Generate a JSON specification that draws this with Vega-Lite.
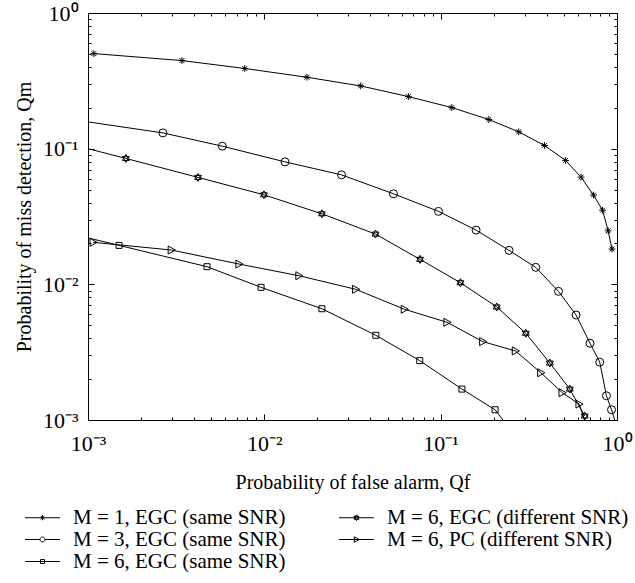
{
  "$schema": "https://vega.github.io/schema/vega-lite/v6.json",
  "autosize": {"type": "none"},
  "width": 529,
  "height": 407,
  "padding": {"left": 88, "top": 13, "right": 18, "bottom": 163},
  "background": "white",
  "config": {
    "view": {"stroke": "black", "strokeWidth": 1},
    "font": "Liberation Serif",
    "axis": {"grid": false, "domainColor": "black", "tickColor": "black", "labelColor": "black", "titleColor": "black", "labelFont": "Liberation Serif", "titleFont": "Liberation Serif", "titleFontWeight": "normal", "labelFontSize": 22, "titleFontSize": 20}
  },
  "data": {"values": [
    {"series": "M = 1, EGC (same SNR)", "kind": "marker", "x": 0.00108, "y": 0.502},
    {"series": "M = 1, EGC (same SNR)", "kind": "marker", "x": 0.00341, "y": 0.446},
    {"series": "M = 1, EGC (same SNR)", "kind": "marker", "x": 0.00774, "y": 0.390},
    {"series": "M = 1, EGC (same SNR)", "kind": "marker", "x": 0.01746, "y": 0.336},
    {"series": "M = 1, EGC (same SNR)", "kind": "marker", "x": 0.0352, "y": 0.290},
    {"series": "M = 1, EGC (same SNR)", "kind": "marker", "x": 0.0656, "y": 0.242},
    {"series": "M = 1, EGC (same SNR)", "kind": "marker", "x": 0.1156, "y": 0.201},
    {"series": "M = 1, EGC (same SNR)", "kind": "marker", "x": 0.1875, "y": 0.164},
    {"series": "M = 1, EGC (same SNR)", "kind": "marker", "x": 0.2773, "y": 0.133},
    {"series": "M = 1, EGC (same SNR)", "kind": "marker", "x": 0.388, "y": 0.1056},
    {"series": "M = 1, EGC (same SNR)", "kind": "marker", "x": 0.511, "y": 0.0819},
    {"series": "M = 1, EGC (same SNR)", "kind": "marker", "x": 0.625, "y": 0.0617},
    {"series": "M = 1, EGC (same SNR)", "kind": "marker", "x": 0.736, "y": 0.0455},
    {"series": "M = 1, EGC (same SNR)", "kind": "marker", "x": 0.828, "y": 0.0352},
    {"series": "M = 1, EGC (same SNR)", "kind": "marker", "x": 0.891, "y": 0.0248},
    {"series": "M = 1, EGC (same SNR)", "kind": "marker", "x": 0.937, "y": 0.0182},

    {"series": "M = 3, EGC (same SNR)", "kind": "edge", "x": 0.001, "y": 0.1575},
    {"series": "M = 3, EGC (same SNR)", "kind": "marker", "x": 0.00266, "y": 0.1307},
    {"series": "M = 3, EGC (same SNR)", "kind": "marker", "x": 0.00578, "y": 0.1043},
    {"series": "M = 3, EGC (same SNR)", "kind": "marker", "x": 0.0131, "y": 0.0799},
    {"series": "M = 3, EGC (same SNR)", "kind": "marker", "x": 0.0274, "y": 0.0641},
    {"series": "M = 3, EGC (same SNR)", "kind": "marker", "x": 0.054, "y": 0.0465},
    {"series": "M = 3, EGC (same SNR)", "kind": "marker", "x": 0.0972, "y": 0.0345},
    {"series": "M = 3, EGC (same SNR)", "kind": "marker", "x": 0.1588, "y": 0.0251},
    {"series": "M = 3, EGC (same SNR)", "kind": "marker", "x": 0.2443, "y": 0.0178},
    {"series": "M = 3, EGC (same SNR)", "kind": "marker", "x": 0.346, "y": 0.01334},
    {"series": "M = 3, EGC (same SNR)", "kind": "marker", "x": 0.4656, "y": 0.00888},
    {"series": "M = 3, EGC (same SNR)", "kind": "marker", "x": 0.586, "y": 0.00594},
    {"series": "M = 3, EGC (same SNR)", "kind": "marker", "x": 0.703, "y": 0.00368},
    {"series": "M = 3, EGC (same SNR)", "kind": "marker", "x": 0.798, "y": 0.00267},
    {"series": "M = 3, EGC (same SNR)", "kind": "marker", "x": 0.871, "y": 0.00151},
    {"series": "M = 3, EGC (same SNR)", "kind": "marker", "x": 0.931, "y": 0.00119},
    {"series": "M = 3, EGC (same SNR)", "kind": "edge", "x": 0.975, "y": 0.00098},

    {"series": "M = 6, EGC (different SNR)", "kind": "edge", "x": 0.001, "y": 0.1},
    {"series": "M = 6, EGC (different SNR)", "kind": "marker", "x": 0.00164, "y": 0.0847},
    {"series": "M = 6, EGC (different SNR)", "kind": "marker", "x": 0.00421, "y": 0.0614},
    {"series": "M = 6, EGC (different SNR)", "kind": "marker", "x": 0.00995, "y": 0.0457},
    {"series": "M = 6, EGC (different SNR)", "kind": "marker", "x": 0.0212, "y": 0.0331},
    {"series": "M = 6, EGC (different SNR)", "kind": "marker", "x": 0.0427, "y": 0.02347},
    {"series": "M = 6, EGC (different SNR)", "kind": "marker", "x": 0.0764, "y": 0.01528},
    {"series": "M = 6, EGC (different SNR)", "kind": "marker", "x": 0.1294, "y": 0.01028},
    {"series": "M = 6, EGC (different SNR)", "kind": "marker", "x": 0.208, "y": 0.00681},
    {"series": "M = 6, EGC (different SNR)", "kind": "marker", "x": 0.304, "y": 0.00436},
    {"series": "M = 6, EGC (different SNR)", "kind": "marker", "x": 0.416, "y": 0.00263},
    {"series": "M = 6, EGC (different SNR)", "kind": "marker", "x": 0.540, "y": 0.00169},
    {"series": "M = 6, EGC (different SNR)", "kind": "marker", "x": 0.656, "y": 0.00107},

    {"series": "M = 6, PC (different SNR)", "kind": "marker", "x": 0.00107, "y": 0.0204},
    {"series": "M = 6, PC (different SNR)", "kind": "marker", "x": 0.00297, "y": 0.0179},
    {"series": "M = 6, PC (different SNR)", "kind": "marker", "x": 0.00719, "y": 0.01411},
    {"series": "M = 6, PC (different SNR)", "kind": "marker", "x": 0.01573, "y": 0.01157},
    {"series": "M = 6, PC (different SNR)", "kind": "marker", "x": 0.033, "y": 0.00919},
    {"series": "M = 6, PC (different SNR)", "kind": "marker", "x": 0.0623, "y": 0.00655},
    {"series": "M = 6, PC (different SNR)", "kind": "marker", "x": 0.1087, "y": 0.00525},
    {"series": "M = 6, PC (different SNR)", "kind": "marker", "x": 0.1734, "y": 0.00378},
    {"series": "M = 6, PC (different SNR)", "kind": "marker", "x": 0.2655, "y": 0.00323},
    {"series": "M = 6, PC (different SNR)", "kind": "marker", "x": 0.370, "y": 0.00223},
    {"series": "M = 6, PC (different SNR)", "kind": "marker", "x": 0.489, "y": 0.00159},
    {"series": "M = 6, PC (different SNR)", "kind": "marker", "x": 0.610, "y": 0.00131},
    {"series": "M = 6, PC (different SNR)", "kind": "edge", "x": 0.66, "y": 0.00098},

    {"series": "M = 6, EGC (same SNR)", "kind": "edge", "x": 0.001, "y": 0.0220},
    {"series": "M = 6, EGC (same SNR)", "kind": "marker", "x": 0.0015, "y": 0.01937},
    {"series": "M = 6, EGC (same SNR)", "kind": "marker", "x": 0.00473, "y": 0.01349},
    {"series": "M = 6, EGC (same SNR)", "kind": "marker", "x": 0.00958, "y": 0.0095},
    {"series": "M = 6, EGC (same SNR)", "kind": "marker", "x": 0.0212, "y": 0.00661},
    {"series": "M = 6, EGC (same SNR)", "kind": "marker", "x": 0.0429, "y": 0.00421},
    {"series": "M = 6, EGC (same SNR)", "kind": "marker", "x": 0.0761, "y": 0.00274},
    {"series": "M = 6, EGC (same SNR)", "kind": "marker", "x": 0.132, "y": 0.00169},
    {"series": "M = 6, EGC (same SNR)", "kind": "marker", "x": 0.2035, "y": 0.00119},
    {"series": "M = 6, EGC (same SNR)", "kind": "edge", "x": 0.228, "y": 0.00098}
  ]},
  "layer": [
    {
      "mark": {"type": "line", "color": "black", "strokeWidth": 1, "clip": true},
      "encoding": {
        "x": {"field": "x", "type": "quantitative", "scale": {"type": "log", "domain": [0.001, 1], "nice": false},
          "axis": {"orient": "bottom", "title": "Probability of false alarm, Qf", "values": [0.001,0.002,0.003,0.004,0.005,0.006,0.007,0.008,0.009,0.01,0.02,0.03,0.04,0.05,0.06,0.07,0.08,0.09,0.1,0.2,0.3,0.4,0.5,0.6,0.7,0.8,0.9,1],
            "labelExpr": "datum.value == 1 ? '10⁰' : datum.value == 0.1 ? '10⁻¹' : datum.value == 0.01 ? '10⁻²' : datum.value == 0.001 ? '10⁻³' : ''",
            "tickSize": {"condition": {"test": "indexof([0.001,0.01,0.1,1], datum.value) >= 0", "value": -6}, "value": -3},
            "labelPadding": 19, "titlePadding": 15, "labelFlush": false, "labelOverlap": false}},
        "y": {"field": "y", "type": "quantitative", "scale": {"type": "log", "domain": [0.001, 1], "nice": false},
          "axis": {"orient": "left", "title": "Probability of miss detection, Qm", "values": [0.001,0.002,0.003,0.004,0.005,0.006,0.007,0.008,0.009,0.01,0.02,0.03,0.04,0.05,0.06,0.07,0.08,0.09,0.1,0.2,0.3,0.4,0.5,0.6,0.7,0.8,0.9,1],
            "labelExpr": "datum.value == 1 ? '10⁰' : datum.value == 0.1 ? '10⁻¹' : datum.value == 0.01 ? '10⁻²' : datum.value == 0.001 ? '10⁻³' : ''",
            "tickSize": {"condition": {"test": "indexof([0.001,0.01,0.1,1], datum.value) >= 0", "value": -6}, "value": -3},
            "labelPadding": 16, "titlePadding": 8, "labelFlush": false, "labelOverlap": false}},
        "detail": {"field": "series", "type": "nominal"}
      }
    },
    {
      "transform": [{"filter": "datum.kind == 'marker'"}],
      "mark": {"type": "point", "filled": false, "color": "black", "strokeWidth": 1, "size": 64, "opacity": 1, "clip": true},
      "encoding": {
        "x": {"field": "x", "type": "quantitative", "scale": {"type": "log", "domain": [0.001, 1], "nice": false},
          "axis": {"orient": "top", "title": null, "labels": false, "values": [0.001,0.002,0.003,0.004,0.005,0.006,0.007,0.008,0.009,0.01,0.02,0.03,0.04,0.05,0.06,0.07,0.08,0.09,0.1,0.2,0.3,0.4,0.5,0.6,0.7,0.8,0.9,1],
            "tickSize": {"condition": {"test": "indexof([0.001,0.01,0.1,1], datum.value) >= 0", "value": -6}, "value": -3}}},
        "y": {"field": "y", "type": "quantitative", "scale": {"type": "log", "domain": [0.001, 1], "nice": false},
          "axis": {"orient": "right", "title": null, "labels": false, "values": [0.001,0.002,0.003,0.004,0.005,0.006,0.007,0.008,0.009,0.01,0.02,0.03,0.04,0.05,0.06,0.07,0.08,0.09,0.1,0.2,0.3,0.4,0.5,0.6,0.7,0.8,0.9,1],
            "tickSize": {"condition": {"test": "indexof([0.001,0.01,0.1,1], datum.value) >= 0", "value": -6}, "value": -3}}},
        "shape": {"field": "series", "type": "nominal",
          "scale": {"domain": ["M = 1, EGC (same SNR)", "M = 3, EGC (same SNR)", "M = 6, EGC (same SNR)", "M = 6, EGC (different SNR)", "M = 6, PC (different SNR)"],
            "range": ["M-0.85,0H0.85M0,-0.85V0.85M-0.6,-0.6L0.6,0.6M-0.6,0.6L0.6,-0.6", "circle", "M-0.75,-0.75H0.75V0.75H-0.75Z", "M0,-1L0.866,0.5L-0.866,0.5ZM0,1L0.866,-0.5L-0.866,-0.5Z", "M-0.8,-1L1,0L-0.8,1Z"]},
          "legend": null}
      }
    },
    {
      "transform": [{"filter": "datum.kind == 'marker'"}],
      "mark": {"type": "point", "filled": false, "color": "black", "strokeWidth": 1, "size": 256, "opacity": 0},
      "encoding": {
        "x": {"field": "x", "type": "quantitative", "scale": {"type": "log", "domain": [0.001, 1], "nice": false}, "axis": null},
        "y": {"field": "y", "type": "quantitative", "scale": {"type": "log", "domain": [0.001, 1], "nice": false}, "axis": null},
        "shape": {"field": "series", "type": "nominal",
          "scale": {"domain": ["M = 1, EGC (same SNR)", "M = 3, EGC (same SNR)", "M = 6, EGC (same SNR)", "M = 6, EGC (different SNR)", "M = 6, PC (different SNR)"],
            "range": ["M-2.19,0H2.19M0,-0.31V0.31M-0.22,-0.22L0.22,0.22M-0.22,0.22L0.22,-0.22", "M-2.19,0H-0.31M0.31,0H2.19M-0.31,0A0.31,0.31 0 1,0 0.31,0A0.31,0.31 0 1,0 -0.31,0", "M-2.19,0H2.19M-0.25,-0.25H0.25V0.25H-0.25Z", "M-2.19,0H2.19M0,-0.36L0.31,0.18L-0.31,0.18ZM0,0.36L0.31,-0.18L-0.31,-0.18Z", "M-2.19,0H2.19M-0.27,-0.34L0.34,0L-0.27,0.34Z"]},
          "legend": {"title": null, "orient": "none", "legendX": -56, "legendY": 494, "columns": 2, "columnPadding": 50, "rowPadding": 0,
            "symbolSize": 256, "symbolStrokeColor": "black", "symbolStrokeWidth": 1, "symbolOpacity": 1, "symbolFillColor": "transparent",
            "labelFont": "Liberation Serif", "labelFontSize": 21, "labelColor": "black", "labelOffset": 20, "labelLimit": 400}}
      }
    }
  ],
  "resolve": {"scale": {"shape": "independent"}, "axis": {"x": "independent", "y": "independent"}}
}
